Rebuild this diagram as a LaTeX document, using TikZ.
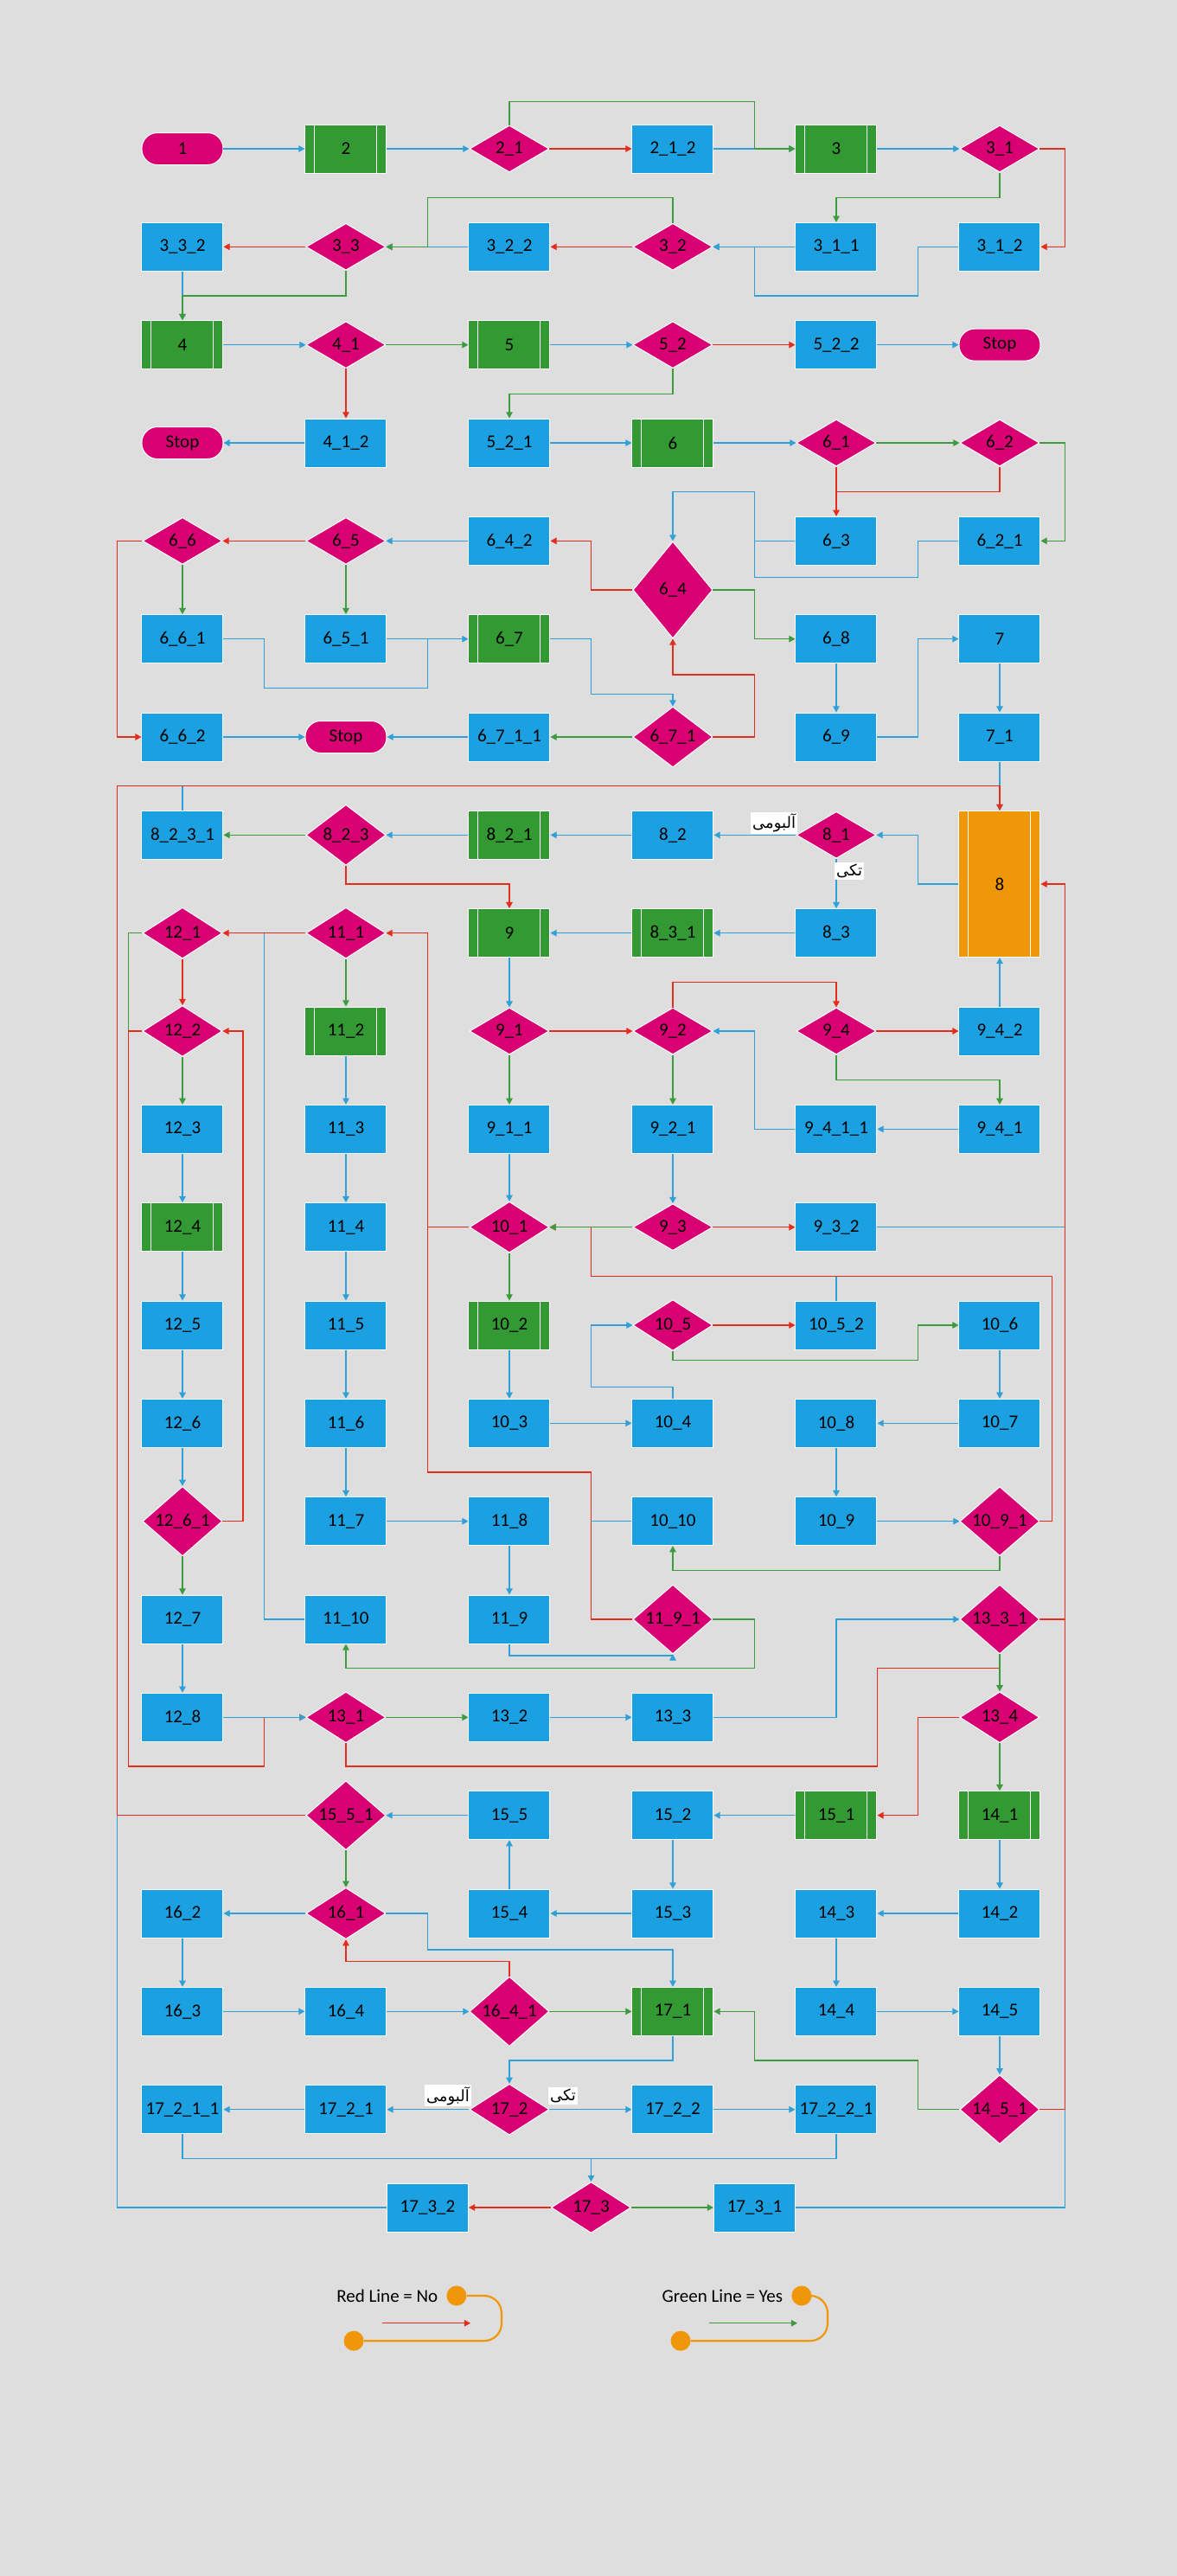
\documentclass[tikz,border=0pt]{standalone}
\usepackage{fontspec}
\setmainfont{Carlito}
\newfontfamily\farsifont[Script=Arabic]{DejaVu Sans}
\TeXXeTstate=1
\usepackage{tikz}
\usetikzlibrary{shapes.geometric,arrows.meta}
\definecolor{boxblue}{RGB}{27,161,226}
\definecolor{boxgreen}{RGB}{51,153,51}
\definecolor{boxpink}{RGB}{216,0,115}
\definecolor{boxorange}{RGB}{240,150,9}
\definecolor{lineblue}{RGB}{48,160,216}
\definecolor{linegreen}{RGB}{62,154,62}
\definecolor{linered}{RGB}{228,45,28}
\definecolor{paper}{RGB}{222,222,222}
\tikzset{
box/.style={
  draw=white,
  line width=0.5pt,
  minimum width=47pt,
  minimum height=28pt,
  inner sep=1pt,
  font=\fontsize{10.5}{12}\selectfont
},
proc/.style={box,rectangle,fill=boxblue},
bars/.style={path picture={
  \draw[white,line width=0.5pt]
    ([xshift=5.5pt]path picture bounding box.north west) --
    ([xshift=5.5pt]path picture bounding box.south west)
    ([xshift=-5.5pt]path picture bounding box.north east) --
    ([xshift=-5.5pt]path picture bounding box.south east);}},
sub/.style={box,rectangle,fill=boxgreen,bars},
big/.style={box,rectangle,fill=boxorange,bars,minimum height=84.5pt},
cond/.style={box,diamond,fill=boxpink,inner sep=0pt,minimum width=46pt,minimum height=27pt},
term/.style={box,rectangle,rounded corners=9pt,fill=boxpink,minimum height=18.5pt},
tag/.style={fill=white,inner sep=1pt,font=\farsifont\fontsize{9}{10}\selectfont},
knob/.style={circle,fill=boxorange,inner sep=0pt,minimum size=11.5pt},
flow/.style={draw=lineblue,line width=0.6pt},
yes/.style={draw=linegreen,line width=0.6pt},
no/.style={draw=linered,line width=0.6pt},
arrowed/.style={-{Triangle[length=3.6pt,width=3.8pt]}},
}
\begin{document}
\begin{tikzpicture}[x=94.5pt,y=-56.667pt]
\useasboundingbox (-0.1164,-0.5177) rectangle (7.0847,25.759);
\fill[paper] (-0.1164,-0.5177) rectangle (7.0847,25.759);

% row 1 - 4
\node[term] (s1) at (1,1) {1};
\node[sub] (s2) at (2,1) {2};
\node[cond] (s2-1) at (3,1) {2\_1};
\node[proc] (s2-1-2) at (4,1) {2\_1\_2};
\node[sub] (s3) at (5,1) {3};
\node[cond] (s3-1) at (6,1) {3\_1};
\node[proc] (s3-3-2) at (1,2) {3\_3\_2};
\node[cond] (s3-3) at (2,2) {3\_3};
\node[proc] (s3-2-2) at (3,2) {3\_2\_2};
\node[cond] (s3-2) at (4,2) {3\_2};
\node[proc] (s3-1-1) at (5,2) {3\_1\_1};
\node[proc] (s3-1-2) at (6,2) {3\_1\_2};
\node[sub] (s4) at (1,3) {4};
\node[cond] (s4-1) at (2,3) {4\_1};
\node[sub] (s5) at (3,3) {5};
\node[cond] (s5-2) at (4,3) {5\_2};
\node[proc] (s5-2-2) at (5,3) {5\_2\_2};
\node[term] (stop-a) at (6,3) {Stop};
\node[term] (stop-b) at (1,4) {Stop};
\node[proc] (s4-1-2) at (2,4) {4\_1\_2};
\node[proc] (s5-2-1) at (3,4) {5\_2\_1};
\node[sub] (s6) at (4,4) {6};
\node[cond] (s6-1) at (5,4) {6\_1};
\node[cond] (s6-2) at (6,4) {6\_2};

% row 5 - 8
\node[cond] (s6-6) at (1,5) {6\_6};
\node[cond] (s6-5) at (2,5) {6\_5};
\node[proc] (s6-4-2) at (3,5) {6\_4\_2};
\node[cond,minimum height=56pt] (s6-4) at (4,5.5) {6\_4};
\node[proc] (s6-3) at (5,5) {6\_3};
\node[proc] (s6-2-1) at (6,5) {6\_2\_1};
\node[proc] (s6-6-1) at (1,6) {6\_6\_1};
\node[proc] (s6-5-1) at (2,6) {6\_5\_1};
\node[sub] (s6-7) at (3,6) {6\_7};
\node[proc] (s6-8) at (5,6) {6\_8};
\node[proc] (s7) at (6,6) {7};
\node[proc] (s6-6-2) at (1,7) {6\_6\_2};
\node[term] (stop-c) at (2,7) {Stop};
\node[proc] (s6-7-1-1) at (3,7) {6\_7\_1\_1};
\node[cond] (s6-7-1) at (4,7) {6\_7\_1};
\node[proc] (s6-9) at (5,7) {6\_9};
\node[proc] (s7-1) at (6,7) {7\_1};
\node[proc] (s8-2-3-1) at (1,8) {8\_2\_3\_1};
\node[cond] (s8-2-3) at (2,8) {8\_2\_3};
\node[sub] (s8-2-1) at (3,8) {8\_2\_1};
\node[proc] (s8-2) at (4,8) {8\_2};
\node[cond] (s8-1) at (5,8) {8\_1};
\node[big] (s8) at (6,8.5) {8};

% row 9 - 12
\node[cond] (s12-1) at (1,9) {12\_1};
\node[cond] (s11-1) at (2,9) {11\_1};
\node[sub] (s9) at (3,9) {9};
\node[sub] (s8-3-1) at (4,9) {8\_3\_1};
\node[proc] (s8-3) at (5,9) {8\_3};
\node[cond] (s12-2) at (1,10) {12\_2};
\node[sub] (s11-2) at (2,10) {11\_2};
\node[cond] (s9-1) at (3,10) {9\_1};
\node[cond] (s9-2) at (4,10) {9\_2};
\node[cond] (s9-4) at (5,10) {9\_4};
\node[proc] (s9-4-2) at (6,10) {9\_4\_2};
\node[proc] (s12-3) at (1,11) {12\_3};
\node[proc] (s11-3) at (2,11) {11\_3};
\node[proc] (s9-1-1) at (3,11) {9\_1\_1};
\node[proc] (s9-2-1) at (4,11) {9\_2\_1};
\node[proc] (s9-4-1-1) at (5,11) {9\_4\_1\_1};
\node[proc] (s9-4-1) at (6,11) {9\_4\_1};
\node[sub] (s12-4) at (1,12) {12\_4};
\node[proc] (s11-4) at (2,12) {11\_4};
\node[cond] (s10-1) at (3,12) {10\_1};
\node[cond] (s9-3) at (4,12) {9\_3};
\node[proc] (s9-3-2) at (5,12) {9\_3\_2};

% row 13 - 17
\node[proc] (s12-5) at (1,13) {12\_5};
\node[proc] (s11-5) at (2,13) {11\_5};
\node[sub] (s10-2) at (3,13) {10\_2};
\node[cond] (s10-5) at (4,13) {10\_5};
\node[proc] (s10-5-2) at (5,13) {10\_5\_2};
\node[proc] (s10-6) at (6,13) {10\_6};
\node[proc] (s12-6) at (1,14) {12\_6};
\node[proc] (s11-6) at (2,14) {11\_6};
\node[proc] (s10-3) at (3,14) {10\_3};
\node[proc] (s10-4) at (4,14) {10\_4};
\node[proc] (s10-8) at (5,14) {10\_8};
\node[proc] (s10-7) at (6,14) {10\_7};
\node[cond] (s12-6-1) at (1,15) {12\_6\_1};
\node[proc] (s11-7) at (2,15) {11\_7};
\node[proc] (s11-8) at (3,15) {11\_8};
\node[proc] (s10-10) at (4,15) {10\_10};
\node[proc] (s10-9) at (5,15) {10\_9};
\node[cond] (s10-9-1) at (6,15) {10\_9\_1};
\node[proc] (s12-7) at (1,16) {12\_7};
\node[proc] (s11-10) at (2,16) {11\_10};
\node[proc] (s11-9) at (3,16) {11\_9};
\node[cond] (s11-9-1) at (4,16) {11\_9\_1};
\node[cond] (s13-3-1) at (6,16) {13\_3\_1};
\node[proc] (s12-8) at (1,17) {12\_8};
\node[cond] (s13-1) at (2,17) {13\_1};
\node[proc] (s13-2) at (3,17) {13\_2};
\node[proc] (s13-3) at (4,17) {13\_3};
\node[cond] (s13-4) at (6,17) {13\_4};

% row 18 - 22
\node[cond] (s15-5-1) at (2,18) {15\_5\_1};
\node[proc] (s15-5) at (3,18) {15\_5};
\node[proc] (s15-2) at (4,18) {15\_2};
\node[sub] (s15-1) at (5,18) {15\_1};
\node[sub] (s14-1) at (6,18) {14\_1};
\node[proc] (s16-2) at (1,19) {16\_2};
\node[cond] (s16-1) at (2,19) {16\_1};
\node[proc] (s15-4) at (3,19) {15\_4};
\node[proc] (s15-3) at (4,19) {15\_3};
\node[proc] (s14-3) at (5,19) {14\_3};
\node[proc] (s14-2) at (6,19) {14\_2};
\node[proc] (s16-3) at (1,20) {16\_3};
\node[proc] (s16-4) at (2,20) {16\_4};
\node[cond] (s16-4-1) at (3,20) {16\_4\_1};
\node[sub] (s17-1) at (4,20) {17\_1};
\node[proc] (s14-4) at (5,20) {14\_4};
\node[proc] (s14-5) at (6,20) {14\_5};
\node[proc] (s17-2-1-1) at (1,21) {17\_2\_1\_1};
\node[proc] (s17-2-1) at (2,21) {17\_2\_1};
\node[cond] (s17-2) at (3,21) {17\_2};
\node[proc] (s17-2-2) at (4,21) {17\_2\_2};
\node[proc] (s17-2-2-1) at (5,21) {17\_2\_2\_1};
\node[cond] (s14-5-1) at (6,21) {14\_5\_1};
\node[proc] (s17-3-2) at (2.5,22) {17\_3\_2};
\node[cond] (s17-3) at (3.5,22) {17\_3};
\node[proc] (s17-3-1) at (4.5,22) {17\_3\_1};

% straight links down a column
\foreach \a/\b in {3-3-2/4,7/7-1,6-8/6-9,12-3/12-4,12-4/12-5,12-5/12-6,12-6/12-6-1,
  12-7/12-8,11-2/11-3,11-3/11-4,11-4/11-5,11-5/11-6,11-6/11-7,11-8/11-9,9/9-1,
  9-1-1/10-1,9-2-1/9-3,10-2/10-3,10-6/10-7,10-8/10-9,14-1/14-2,14-3/14-4,
  14-5/14-5-1,15-2/15-3,16-2/16-3}
  \draw[flow,arrowed] (s\a.south) -- (s\b.north);

% the arrows, rows 1 - 4
\draw[flow,arrowed] (s1.east) -- (s2.west);
\draw[flow,arrowed] (s2.east) -- (s2-1.west);
\draw[no,arrowed] (s2-1.east) -- (s2-1-2.west);
\draw[flow,arrowed] (s2-1-2.east) -- (s3.west);
\draw[yes,arrowed] (s2-1.north) |- (4.5,0.52) -- (4.5,1) -- (s3.west);
\draw[flow,arrowed] (s3.east) -- (s3-1.west);
\draw[no,arrowed] (s3-1.east) -| (6.4,2) -- (s3-1-2.east);
\draw[yes,arrowed] (s3-1.south) |- (5,1.5) -- (s3-1-1.north);
\draw[flow,arrowed] (s3-1-2.west) -| (5.5,2.5) -| (4.5,2) -- (s3-2.east);
\draw[flow,arrowed] (s3-1-1.west) -- (s3-2.east);
\draw[no,arrowed] (s3-2.west) -- (s3-2-2.east);
\draw[flow,arrowed] (s3-2-2.west) -- (s3-3.east);
\draw[yes,arrowed] (s3-2.north) |- (2.5,1.5) |- (s3-3.east);
\draw[no,arrowed] (s3-3.west) -- (s3-3-2.east);
\draw[yes,arrowed] (s3-3.south) |- (1,2.5) -- (s4.north);
\draw[flow,arrowed] (s4.east) -- (s4-1.west);
\draw[yes,arrowed] (s4-1.east) -- (s5.west);
\draw[no,arrowed] (s4-1.south) -- (s4-1-2.north);
\draw[flow,arrowed] (s5.east) -- (s5-2.west);
\draw[no,arrowed] (s5-2.east) -- (s5-2-2.west);
\draw[yes,arrowed] (s5-2.south) |- (3,3.5) -- (s5-2-1.north);
\draw[flow,arrowed] (s5-2-2.east) -- (stop-a.west);
\draw[flow,arrowed] (s4-1-2.west) -- (stop-b.east);
\draw[flow,arrowed] (s5-2-1.east) -- (s6.west);
\draw[flow,arrowed] (s6.east) -- (s6-1.west);
\draw[yes,arrowed] (s6-1.east) -- (s6-2.west);
\draw[no] (s6-2.south) |- (5,4.5);
\draw[no,arrowed] (s6-1.south) -- (s6-3.north);
\draw[yes,arrowed] (s6-2.east) -| (6.4,5) -- (s6-2-1.east);

% rows 5 - 7
\draw[flow] (s6-2-1.west) -| (5.5,5.37) -| (4.5,5);
\draw[flow,arrowed] (s6-3.west) -| (4.5,4.5) -| (s6-4.north);
\draw[no,arrowed] (s6-4.west) -| (3.5,5) -- (s6-4-2.east);
\draw[yes,arrowed] (s6-4.east) -| (4.5,6) -- (s6-8.west);
\draw[flow,arrowed] (s6-4-2.west) -- (s6-5.east);
\draw[no,arrowed] (s6-5.west) -- (s6-6.east);
\draw[yes,arrowed] (s6-5.south) -- (s6-5-1.north);
\draw[yes,arrowed] (s6-6.south) -- (s6-6-1.north);
\draw[no,arrowed] (s6-6.west) -| (0.6,7) -- (s6-6-2.west);
\draw[flow] (s6-6-1.east) -| (1.5,6.5) -| (2.5,6);
\draw[flow,arrowed] (s6-5-1.east) -- (s6-7.west);
\draw[flow,arrowed] (s6-7.east) -| (3.5,6.56) -| (s6-7-1.north);
\draw[flow,arrowed] (s6-9.east) -| (5.5,6) -- (s7.west);
\draw[no,arrowed] (s6-7-1.east) -| (4.5,6.365) -| (s6-4.south);
\draw[yes,arrowed] (s6-7-1.west) -- (s6-7-1-1.east);
\draw[flow,arrowed] (s6-7-1-1.west) -- (stop-c.east);
\draw[flow,arrowed] (s6-6-2.east) -- (stop-c.west);
\draw[flow,arrowed] (s7-1.south) -- (s8.north);

% long returns into 8
\draw[flow] (s17-3-2.west) -| (0.6,18);
\draw[flow] (s8-2-3-1.north) -- (1,7.5);
\draw[no,arrowed] (s15-5-1.west) -| (0.6,7.5) -| (s8.north);
\draw[flow] (s9-3-2.east) -- (6.4,12);
\draw[flow] (s17-3-1.east) -| (6.4,21);
\draw[no] (s13-3-1.east) -- (6.4,16);
\draw[no,arrowed] (s14-5-1.east) -| (6.4,8.5) -- (s8.east);

% rows 8 - 12
\draw[flow,arrowed] (s8.west) -| (5.5,8) -- (s8-1.east);
\draw[flow,arrowed] (s8-1.west) -- (s8-2.east);
\draw[flow,arrowed] (s8-1.south) -- (s8-3.north);
\node[tag] (tag-a) at (4.62,7.88) {\beginR آلبومی\endR};
\node[tag] (tag-b) at (5.08,8.37) {\beginR تکی\endR};
\draw[flow,arrowed] (s8-2.west) -- (s8-2-1.east);
\draw[flow,arrowed] (s8-2-1.west) -- (s8-2-3.east);
\draw[yes,arrowed] (s8-2-3.west) -- (s8-2-3-1.east);
\draw[no,arrowed] (s8-2-3.south) |- (3,8.5) -- (s9.north);
\draw[flow,arrowed] (s8-3.west) -- (s8-3-1.east);
\draw[flow,arrowed] (s8-3-1.west) -- (s9.east);
\draw[flow] (s11-10.west) -| (1.5,9);
\draw[no,arrowed] (s11-1.west) -- (s12-1.east);
\draw[yes,arrowed] (s11-1.south) -- (s11-2.north);
\draw[no] (s10-1.west) -- (2.5,12);
\draw[no,arrowed] (s11-9-1.west) -| (3.5,14.5) -| (2.5,9) -- (s11-1.east);
\draw[no,arrowed] (s12-1.south) -- (s12-2.north);
\draw[yes] (s12-1.west) -| (0.67,10);
\draw[no,arrowed] (s12-2.west) -| (0.67,17.5) -| (1.5,17) -- (s13-1.west);
\draw[yes,arrowed] (s12-2.south) -- (s12-3.north);
\draw[no,arrowed] (s12-6-1.east) -| (1.37,10) -- (s12-2.east);
\draw[yes,arrowed] (s9-1.south) -- (s9-1-1.north);
\draw[no,arrowed] (s9-1.east) -- (s9-2.west);
\draw[yes,arrowed] (s9-2.south) -- (s9-2-1.north);
\draw[no,arrowed] (s9-2.north) |- (5,9.5) -- (s9-4.north);
\draw[no,arrowed] (s9-4.east) -- (s9-4-2.west);
\draw[yes,arrowed] (s9-4.south) |- (6,10.5) -- (s9-4-1.north);
\draw[flow,arrowed] (s9-4-2.north) -- (s8.south);
\draw[flow,arrowed] (s9-4-1.west) -- (s9-4-1-1.east);
\draw[flow,arrowed] (s9-4-1-1.west) -| (4.5,10) -- (s9-2.east);
\draw[no,arrowed] (s9-3.east) -- (s9-3-2.west);
\draw[flow] (s10-5-2.north) -- (5,12.5);
\draw[no,arrowed] (s10-9-1.east) -| (6.32,12.5) -| (3.5,12) -- (s10-1.east);
\draw[yes,arrowed] (s9-3.west) -- (s10-1.east);

% rows 13 - 17
\draw[yes,arrowed] (s10-1.south) -- (s10-2.north);
\draw[flow,arrowed] (s10-3.east) -- (s10-4.west);
\draw[flow,arrowed] (s10-4.north) |- (3.5,13.63) |- (s10-5.west);
\draw[no,arrowed] (s10-5.east) -- (s10-5-2.west);
\draw[yes,arrowed] (s10-5.south) |- (5.5,13.36) |- (s10-6.west);
\draw[flow,arrowed] (s10-7.west) -- (s10-8.east);
\draw[flow,arrowed] (s10-9.east) -- (s10-9-1.west);
\draw[yes,arrowed] (s10-9-1.south) |- (4,15.5) -- (s10-10.south);
\draw[flow] (s10-10.west) -- (3.5,15);
\draw[flow,arrowed] (s11-7.east) -- (s11-8.west);
\draw[flow,arrowed] (s11-9.south) |- (4,16.37) -- (s11-9-1.south);
\draw[yes,arrowed] (s11-9-1.east) -| (4.5,16.5) -| (s11-10.south);
\draw[yes,arrowed] (s12-6-1.south) -- (s12-7.north);
\draw[flow,arrowed] (s12-8.east) -- (s13-1.west);
\draw[flow,arrowed] (s13-3.east) -| (5,16) -- (s13-3-1.west);
\draw[no] (s13-1.south) |- (5.25,17.5) |- (6,16.5);
\draw[yes,arrowed] (s13-3-1.south) -- (s13-4.north);
\draw[yes,arrowed] (s13-1.east) -- (s13-2.west);
\draw[flow,arrowed] (s13-2.east) -- (s13-3.west);
\draw[yes,arrowed] (s13-4.south) -- (s14-1.north);
\draw[no,arrowed] (s13-4.west) -| (5.5,18) -- (s15-1.east);

% rows 18 - 22
\draw[flow,arrowed] (s15-1.west) -- (s15-2.east);
\draw[flow,arrowed] (s15-3.west) -- (s15-4.east);
\draw[flow,arrowed] (s15-4.north) -- (s15-5.south);
\draw[flow,arrowed] (s15-5.west) -- (s15-5-1.east);
\draw[yes,arrowed] (s15-5-1.south) -- (s16-1.north);
\draw[flow,arrowed] (s16-1.west) -- (s16-2.east);
\draw[flow,arrowed] (s16-1.east) -| (2.5,19.37) -| (s17-1.north);
\draw[flow,arrowed] (s16-3.east) -- (s16-4.west);
\draw[flow,arrowed] (s16-4.east) -- (s16-4-1.west);
\draw[yes,arrowed] (s16-4-1.east) -- (s17-1.west);
\draw[no,arrowed] (s16-4-1.north) |- (2,19.49) -- (s16-1.south);
\draw[flow,arrowed] (s14-2.west) -- (s14-3.east);
\draw[flow,arrowed] (s14-4.east) -- (s14-5.west);
\draw[yes,arrowed] (s14-5-1.west) -| (5.5,20.5) -| (4.5,20) -- (s17-1.east);
\draw[flow,arrowed] (s17-1.south) |- (3,20.5) -- (s17-2.north);
\draw[flow,arrowed] (s17-2.west) -- (s17-2-1.east);
\draw[flow,arrowed] (s17-2.east) -- (s17-2-2.west);
\node[tag] (tag-c) at (2.624,20.86) {\beginR آلبومی\endR};
\node[tag] (tag-d) at (3.328,20.86) {\beginR تکی\endR};
\draw[flow,arrowed] (s17-2-1.west) -- (s17-2-1-1.east);
\draw[flow,arrowed] (s17-2-2.east) -- (s17-2-2-1.west);
\draw[flow] (s17-2-2-1.south) |- (3.5,21.5);
\draw[flow,arrowed] (s17-2-1-1.south) |- (3.5,21.5) -- (s17-3.north);
\draw[no,arrowed] (s17-3.west) -- (s17-3-2.east);
\draw[yes,arrowed] (s17-3.east) -- (s17-3-1.west);

% legend
\node[font=\fontsize{10.5}{12}\selectfont,anchor=east] (key-no) at (2.60,22.9) {Red Line = No};
\node[knob] (knob-a) at (2.677,22.9) {};
\node[knob] (knob-b) at (2.048,23.36) {};
\draw[boxorange,line width=1.1pt,rounded corners=10pt] (knob-a) -- (2.952,22.9) -- (2.952,23.36) -- (knob-b);
\coordinate (ka) at (2.222,23.18);
\coordinate (kb) at (2.762,23.18);
\draw[no,arrowed] (ka) -- (kb);
\node[font=\fontsize{10.5}{12}\selectfont,anchor=east] (key-yes) at (4.71,22.9) {Green Line = Yes};
\node[knob] (knob-c) at (4.788,22.9) {};
\node[knob] (knob-d) at (4.048,23.36) {};
\draw[boxorange,line width=1.1pt,rounded corners=10pt] (knob-c) -- (4.947,22.9) -- (4.947,23.36) -- (knob-d);
\coordinate (kc) at (4.222,23.18);
\coordinate (kd) at (4.762,23.18);
\draw[yes,arrowed] (kc) -- (kd);
\end{tikzpicture}
\end{document}
